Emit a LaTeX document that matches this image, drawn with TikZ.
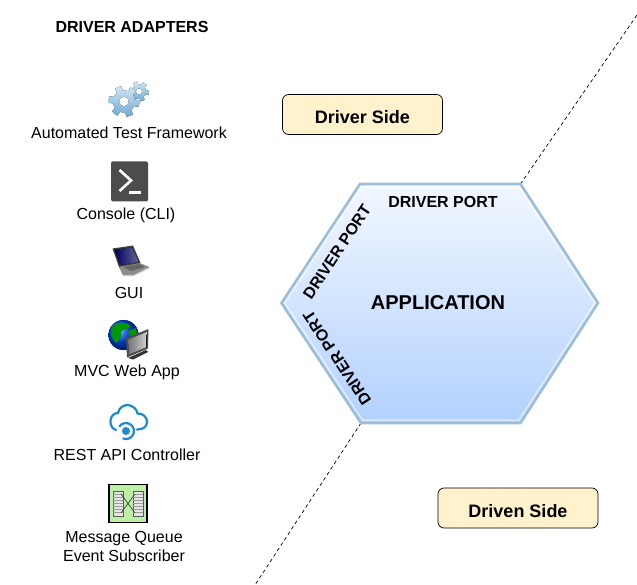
\documentclass[tikz,border=0pt]{standalone}
\usepackage{fontspec}
\setmainfont{Liberation Sans}
\usetikzlibrary{calc}
\definecolor{hexedge}{HTML}{9DBEDB}
\definecolor{hextop}{HTML}{F2F7FF}
\definecolor{hexbot}{HTML}{B2D1FF}
\definecolor{notefill}{HTML}{FFF2CC}
\definecolor{gearlight}{HTML}{CFE6F2}
\definecolor{geardark}{HTML}{6FAAD3}
\definecolor{cloudblue}{HTML}{1B8AD6}
\definecolor{queuegreen}{HTML}{BDF0A5}
\tikzset{
  lbl/.style={font=\fontsize{16}{19}\selectfont,align=center,inner sep=0pt,text=black},
  blbl/.style={font=\bfseries\fontsize{16}{18}\selectfont,inner sep=0pt,text=black},
  side/.style={draw=black,fill=notefill,rounded corners=6pt,minimum width=160pt,minimum height=40pt,font=\bfseries\fontsize{18}{20}\selectfont,inner sep=0pt,line width=.7pt,text height=19pt,text depth=0pt},
  boundary/.style={dashed,dash pattern=on 3.5pt off 3pt,line width=.7pt,black}
}
\newcommand{\gearshape}[4]{% cx cy Rout Rin
  \fill[even odd rule,top color=gearlight,bottom color=geardark]
    plot[samples=73,domain=0:360] ({#1+(mod(\x+8,60)<30?#3:#4)*cos(\x)},{#2+(mod(\x+8,60)<30?#3:#4)*sin(\x)}) -- cycle
    (#1,#2) circle[radius=#4*0.45];
}
\begin{document}
\begin{tikzpicture}[x=1pt,y=-1pt]
\useasboundingbox (0,0) rectangle (637,585);
% hexagon corners
\coordinate (hL) at (281.5,303);
\coordinate (hTL) at (360,184);
\coordinate (hTR) at (520.5,184);
\coordinate (hR) at (598,303);
\coordinate (hBR) at (520.5,423);
\coordinate (hBL) at (361,423);
\coordinate (upEnd) at (637,15);
\coordinate (loEnd) at (255,585);
% dashed boundary
\draw[boundary] (hTR) -- (upEnd);
\draw[boundary] (hBL) -- (loEnd);
% hexagon
\draw[hexedge,line width=2.6pt,line join=miter,top color=hextop,bottom color=hexbot]
  (hL) -- (hTL) -- (hTR) -- (hR) -- (hBR) -- (hBL) -- cycle;
\draw[white,opacity=.6,line width=1.4pt]
  (284.7,303) -- (361.6,186.8) -- (518.9,186.8) -- (594.8,303) -- (518.9,420.2) -- (362.6,420.2) -- cycle;
% hexagon labels
\node[blbl] (portTop) at (443,201.5) {DRIVER PORT};
\node[blbl,rotate=56.5] (portUp) at (337,252) {DRIVER PORT};
\node[blbl,rotate=123.5] (portLow) at (337,358) {DRIVER PORT};
\node[font=\bfseries\fontsize{20}{22}\selectfont,inner sep=0pt] (app) at (438,302.5) {APPLICATION};
% side notes
\node[side] (driver) at (362.5,114.5) {Driver Side};
\node[side] (driven) at (518,508) {Driven Side};
% heading
\node[blbl] (head) at (132,26.5) {DRIVER ADAPTERS};
% labels
\node[lbl] (l1) at (129,133) {Automated Test Framework};
\node[lbl] (l2) at (126,215.5) {Console (CLI)};
\node[lbl] (l3) at (129,293) {GUI};
\node[lbl] (l4) at (127,372) {MVC Web App};
\node[lbl] (l5) at (127,455) {REST API Controller};
\node[lbl] (l6) at (124,546) {Message Queue\\Event Subscriber};
% gears icon
\gearshape{139}{91.5}{10}{7}
\gearshape{124}{101.5}{15.5}{11}
% console icon
\fill[fill=black!70,rounded corners=1.5pt] (111,161.5) rectangle (148,201.5);
\draw[white,line width=2.6pt,line cap=butt,line join=miter] (119.5,170) -- (131,180.5) -- (119.5,191);
\draw[white,line width=2.4pt] (129,192.5) -- (141,192.5);
% laptop icon
\fill[black!45] (119,267) -- (139.5,263) -- (149.5,267) -- (133,275.5) -- (123,275.5) -- cycle;
\fill[black!20] (123,275.5) -- (133,275.5) -- (149.5,267) -- (149.5,268.5) -- (133,276.5) -- (123,276.5) -- cycle;
\fill[black!75] (112.5,248.5) -- (133,245.5) -- (140.5,263) -- (119,267) -- cycle;
\fill[left color=blue!35!black,right color=blue!20!gray] (114.5,249.8) -- (132,247.3) -- (138.5,261.8) -- (120,265.2) -- cycle;
\fill[black!60] (123,267) -- (139,264) -- (145,267) -- (131,271) -- cycle;
% globe and monitor icon
\fill[ball color=blue!70!cyan] (123.5,335) circle[radius=15];
\fill[green!60!black] (113,326) .. controls (119,321) and (127,322) .. (131,326) .. controls (127,330) and (123,329) .. (121,332) .. controls (122,336) and (119,341) .. (116,343) .. controls (111,338) and (110,331) .. (113,326) -- cycle;
\fill[green!60!black] (128,331) -- (136,328) -- (137,335) -- (131,339) -- cycle;
\fill[black!70] (126,338) -- (148.5,329) -- (148,348.5) -- (127,357.5) -- cycle;
\fill[left color=black!55,right color=black!18] (128,339.5) -- (146.8,332) -- (146.5,347) -- (128.8,354.6) -- cycle;
\fill[black!80] (128,358) -- (146,350) -- (148,352) -- (133,359.5) -- cycle;
% cloud icon
\draw[cloudblue,line width=2.2pt,line cap=round]
  (116,430) .. controls (111.5,428.5) and (110,424) .. (110.5,420.5) .. controls (111,415.5) and (114.5,413) .. (118,413)
  .. controls (119,408) and (123,405) .. (128,405) .. controls (133,405.5) and (137,409.5) .. (137.5,413.5)
  .. controls (143,413) and (147.5,417.5) .. (147,422.5) .. controls (146.5,427) and (143,429.5) .. (137,429.5);
\draw[cloudblue,line width=2.2pt,line cap=round]
  (126,431) ++(215:8) arc[start angle=215,end angle=470,radius=8];
\fill[cloudblue] (126,431) circle[radius=4];
% message queue icon
\draw[black,line width=1.7pt,fill=queuegreen] (109,484.5) rectangle (147,522.5);
\foreach \cx in {113,133}{
  \draw[black!65,fill=black!10,line width=.6pt] (\cx,491) rectangle +(10,25);
  \foreach \yy in {494,497,500,503,506,509,512}
    \draw[black!40,line width=.5pt] (\cx,\yy) -- +(10,0);
}
\draw[black!75,line width=.7pt] (121,494) -- (135,513);
\draw[black!75,line width=.7pt] (135,494) -- (121,513);
\end{tikzpicture}
\end{document}
